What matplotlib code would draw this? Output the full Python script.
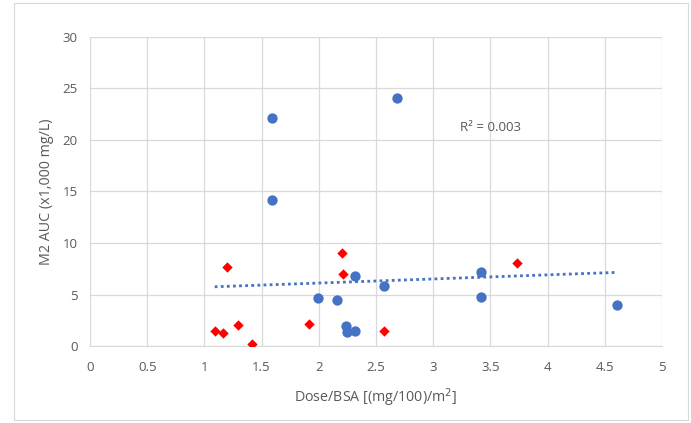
import matplotlib
matplotlib.use("Agg")
import matplotlib.pyplot as plt
from matplotlib.patches import Rectangle

blue_x = [1.59, 1.59, 2.68, 2.32, 1.99, 2.16, 2.24, 2.25, 2.32, 2.57, 3.42, 3.42, 4.61]
blue_y = [22.1, 14.2, 24.1, 6.8, 4.66, 4.47, 1.94, 1.36, 1.46, 5.8, 7.2, 4.76, 3.98]
red_x = [1.09, 1.16, 1.20, 1.29, 1.42, 1.91, 2.20, 2.21, 2.57, 3.73]
red_y = [1.46, 1.26, 7.67, 2.04, 0.19, 2.14, 9.03, 6.99, 1.46, 8.06]
trend_x = [1.09, 4.61]
trend_y = [5.75, 7.15]
r2_label = "R\u00b2 = 0.003"
x_ticks = [0, 0.5, 1, 1.5, 2, 2.5, 3, 3.5, 4, 4.5, 5]
y_ticks = [0, 5, 10, 15, 20, 25, 30]

plt.rcParams['font.family'] = ['Open Sans', 'DejaVu Sans']
W, H = 691, 423
fig = plt.figure(figsize=(W / 100, H / 100), dpi=100)
fig.patches.append(Rectangle((14 / W, 3 / H), (688 - 14) / W, (420 - 3) / H,
                             transform=fig.transFigure, fill=False,
                             edgecolor='#d9d9d9', linewidth=0.8))
ax = fig.add_axes([90 / W, 1 - 346 / H, (662 - 90) / W, (346 - 37) / H])
ax.set_xlim(0, 5)
ax.set_ylim(0, 30)
ax.set_xticks(x_ticks)
ax.set_yticks(y_ticks)
ax.set_xticklabels([f"{t:g}" for t in x_ticks])
ax.set_yticklabels([f"{t:g}" for t in y_ticks])
ax.grid(True, color='#d9d9d9', linewidth=0.9)
ax.set_axisbelow(True)
for s in ['top', 'right', 'left']:
    ax.spines[s].set_visible(False)
ax.spines['bottom'].set_color('#d9d9d9')
ax.tick_params(length=0, labelsize=9.5, colors='#595959')
ax.tick_params(axis='x', pad=10.5)
ax.tick_params(axis='y', pad=9)

ax.plot(trend_x, trend_y, linestyle=(0, (1, 1.2)), color='#4472c4', linewidth=2.0)
ax.scatter(blue_x, blue_y, s=55, color='#4472c4', zorder=3, linewidths=0)
ax.scatter(red_x, red_y, s=28, marker='D', color='#ff0000', zorder=3, linewidths=0)
ax.text(3.505, 21.2, r2_label, fontsize=9.5, color='#595959', ha='center', va='center')

ax.set_xlabel("Dose/BSA [(mg/100)/m$^{2}$]", fontsize=10.3, color='#595959', labelpad=9)
ax.set_ylabel("M2 AUC (x1,000 mg/L)", fontsize=10.3, color='#595959', labelpad=6)

fig.savefig("out.png", dpi=100, facecolor='white')
